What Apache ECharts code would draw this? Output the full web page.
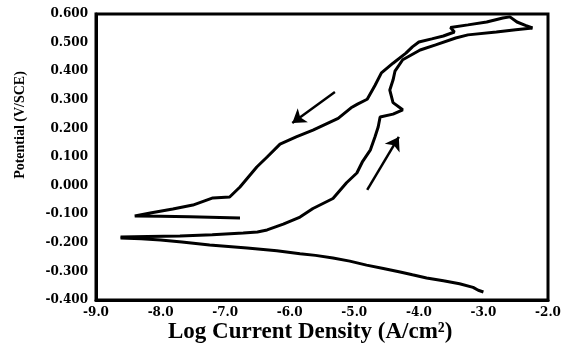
<!DOCTYPE html>
<html>
<head>
<meta charset="utf-8">
<script src="https://cdn.jsdelivr.net/npm/echarts@6/dist/echarts.min.js"></script>
<style>
  html, body { margin: 0; padding: 0; background: #fff; }
  #chart { width: 571px; height: 349px; }
</style>
</head>
<body>
<div id="chart"></div>
<script>
// polarization scan, [log i (A/cm2), E (V/SCE)]
const cathodicBranch = [
  [-3.00, -0.372], [-3.08, -0.366], [-3.16, -0.356], [-3.37, -0.343], [-3.62, -0.333],
  [-3.88, -0.323], [-4.10, -0.312], [-4.29, -0.302], [-4.55, -0.290], [-4.81, -0.278],
  [-5.07, -0.264], [-5.33, -0.253], [-5.60, -0.244], [-5.84, -0.238], [-6.20, -0.228],
  [-6.66, -0.218], [-7.24, -0.208], [-7.67, -0.197], [-8.00, -0.190], [-8.30, -0.186],
  [-8.62, -0.183]
];

const anodicForward = [
  [-8.62, -0.180], [-8.20, -0.178], [-7.70, -0.176], [-7.20, -0.172], [-6.72, -0.166],
  [-6.50, -0.162], [-6.35, -0.155], [-6.10, -0.135], [-5.84, -0.110], [-5.64, -0.080],
  [-5.33, -0.045], [-5.12, 0.010], [-4.96, 0.044], [-4.87, 0.085], [-4.75, 0.125],
  [-4.68, 0.170], [-4.63, 0.205], [-4.60, 0.240], [-4.40, 0.250], [-4.25, 0.265],
  [-4.40, 0.290], [-4.45, 0.334], [-4.40, 0.369], [-4.37, 0.400], [-4.25, 0.440],
  [-3.98, 0.474], [-3.74, 0.492], [-3.43, 0.516], [-3.24, 0.527], [-2.80, 0.537],
  [-2.50, 0.545], [-2.24, 0.551]
];

const anodicReverse = [
  [-2.24, 0.551], [-2.35, 0.560], [-2.48, 0.572], [-2.59, 0.590], [-2.70, 0.586],
  [-2.95, 0.572], [-3.24, 0.562], [-3.51, 0.553], [-3.45, 0.537], [-3.62, 0.523],
  [-3.80, 0.513], [-4.00, 0.502], [-4.10, 0.485], [-4.20, 0.463], [-4.40, 0.428],
  [-4.58, 0.394], [-4.68, 0.350], [-4.80, 0.302], [-4.95, 0.285], [-5.05, 0.272],
  [-5.25, 0.235], [-5.64, 0.194], [-5.90, 0.170], [-6.15, 0.145], [-6.35, 0.100],
  [-6.51, 0.065], [-6.77, -0.005], [-6.93, -0.040], [-7.19, -0.043], [-7.50, -0.068],
  [-7.81, -0.082], [-8.16, -0.096], [-8.40, -0.106], [-8.00, -0.107], [-7.55, -0.109],
  [-6.77, -0.113]
];

// scan direction arrows, [from, to]
const arrowReverse = [[-5.30, 0.327], [-5.96, 0.219]];
const arrowForward = [[-4.80, -0.015], [-4.31, 0.170]];

const xTicks = { min: -9, max: -2, step: 1 };
const yTicks = { min: -0.4, max: 0.6, step: 0.1 };

const serif = '"DejaVu Serif", "Liberation Serif", serif';
const titleSerif = '"Liberation Serif", "DejaVu Serif", serif';

const chart = echarts.init(document.getElementById('chart'));

const scanLine = (name, data) => ({
  name,
  type: 'line',
  data,
  symbol: 'none',
  silent: true,
  lineStyle: { color: '#000', width: 3 },
  z: 3
});

const arrowMark = (pair) => [
  { coord: pair[0], symbol: 'none' },
  { coord: pair[1], symbol: 'arrow' }
];

const reverseSeries = scanLine('reverse', anodicReverse);
reverseSeries.markLine = {
  silent: true,
  animation: false,
  symbolSize: 13,
  label: { show: false },
  lineStyle: { color: '#000', width: 2.5, type: 'solid' },
  data: [arrowMark(arrowReverse), arrowMark(arrowForward)]
};

chart.setOption({
  animation: false,
  backgroundColor: '#fff',
  grid: {
    left: 96, right: 23, top: 14, bottom: 49,
    show: true, borderColor: '#000', borderWidth: 3
  },
  xAxis: {
    type: 'value',
    min: xTicks.min, max: xTicks.max, interval: xTicks.step,
    axisLine: { onZero: false, lineStyle: { color: '#000', width: 3 } },
    axisTick: { show: false },
    splitLine: { show: false },
    axisLabel: {
      margin: 7,
      color: '#000',
      fontFamily: serif,
      fontWeight: 'bold',
      fontSize: 12,
      formatter: (v) => v.toFixed(1)
    }
  },
  yAxis: {
    type: 'value',
    min: yTicks.min, max: yTicks.max, interval: yTicks.step,
    axisLine: { show: true, onZero: false, lineStyle: { color: '#000', width: 3 } },
    axisTick: { show: false },
    splitLine: { show: false },
    axisLabel: {
      margin: 8,
      color: '#000',
      fontFamily: serif,
      fontWeight: 'bold',
      fontSize: 12,
      formatter: (v) => v.toFixed(3)
    }
  },
  graphic: [
    {
      type: 'text',
      left: 168, top: 321,
      style: {
        text: 'Log Current Density (A/cm²)',
        fill: '#000',
        font: 'bold 23px ' + titleSerif
      }
    },
    {
      type: 'text',
      x: 20, y: 125,
      rotation: Math.PI / 2,
      style: {
        text: 'Potential (V/SCE)',
        fill: '#000',
        font: 'bold 14px ' + titleSerif,
        align: 'center',
        verticalAlign: 'middle'
      }
    }
  ],
  series: [
    scanLine('cathodic', cathodicBranch),
    scanLine('forward', anodicForward),
    reverseSeries
  ]
});
</script>
</body>
</html>
